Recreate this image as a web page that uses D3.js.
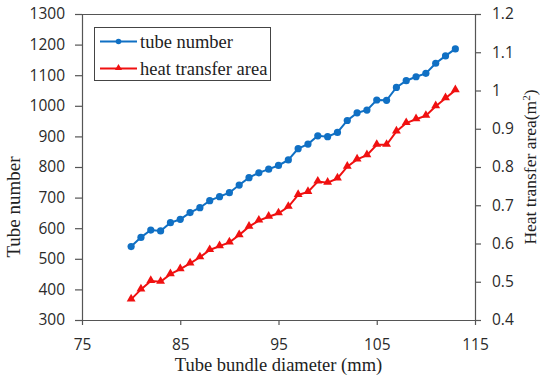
<!DOCTYPE html>
<html><head><meta charset="utf-8">
<script src="https://cdn.jsdelivr.net/npm/d3@7"></script>
<style>body{margin:0;background:#fff}svg{display:block}</style>
</head><body>
<svg id="c" width="550" height="382"></svg>
<script>
const diameters = d3.range(80, 114, 1);
const tubeNumber = [540,570,594,591,618,629,651,667,690,703,716,741,765,781,793,805,823,860,875,902,899,913,952,977,986,1019,1018,1060,1082,1095,1106,1139,1163,1186];
const heatArea = [0.454,0.480,0.502,0.500,0.520,0.533,0.548,0.564,0.583,0.593,0.603,0.622,0.644,0.660,0.670,0.679,0.696,0.727,0.735,0.762,0.759,0.770,0.801,0.820,0.831,0.858,0.858,0.893,0.915,0.925,0.934,0.959,0.980,1.001];
const xTicks = [75,85,95,105,115];
const yLeftTicks = [300,400,500,600,700,800,900,1000,1100,1200,1300];
const yRightTicks = [0.4,0.5,0.6,0.7,0.8,0.9,1.0,1.1,1.2];
const seriesNames = ["tube number","heat transfer area"];

const svg = d3.select("#c");
const L=82, R=475, T=14, B=320;
const x = d3.scaleLinear().domain([75,115]).range([L,R]);
const yL = d3.scaleLinear().domain([300,1300]).range([B,T]);
const yR = d3.scaleLinear().domain([0.4,1.2]).range([B,T]);
const axisCol = "#555";
const tickFont = "'Open Sans', sans-serif";
const serif = "'Liberation Serif', 'Times New Roman', serif";
const blue = "#1070c4", red = "#f01010";

// frame top
svg.append("line").attr("x1",L).attr("x2",R).attr("y1",T+0.5).attr("y2",T+0.5).attr("stroke",axisCol).attr("stroke-width",1.2);

function styleAxis(g){
  g.selectAll("path,line").attr("stroke",axisCol).attr("stroke-width",1.2);
  g.selectAll("text").attr("fill","#2a2a2a").style("font-family",tickFont).style("font-size","15.5px");
}
svg.append("g").attr("transform",`translate(0,${B})`)
  .call(d3.axisBottom(x).tickValues(xTicks).tickFormat(d3.format("d")).tickSize(5).tickSizeOuter(0).tickPadding(14))
  .call(styleAxis);
svg.append("g").attr("transform",`translate(${L},0)`)
  .call(d3.axisLeft(yL).tickValues(yLeftTicks).tickFormat(d3.format("d")).tickSize(7).tickSizeOuter(0).tickPadding(10))
  .call(styleAxis);
svg.append("g").attr("transform",`translate(${R},0)`)
  .call(d3.axisRight(yR).tickValues(yRightTicks).tickFormat(d=>String(+d.toFixed(1))).tickSize(6).tickSizeOuter(0).tickPadding(11))
  .call(styleAxis);

// titles
svg.append("text").attr("x",(L+R)/2).attr("y",371).attr("text-anchor","middle")
  .style("font-family",serif).style("font-size","18.5px").attr("fill","#222").text("Tube bundle diameter (mm)");
svg.append("text").attr("transform","translate(20,207) rotate(-90)").attr("text-anchor","middle")
  .style("font-family",serif).style("font-size","19px").attr("fill","#222").text("Tube number");
const rt = svg.append("text").attr("transform","translate(536,167) rotate(-90)").attr("text-anchor","middle")
  .style("font-family",serif).style("font-size","17.5px").attr("fill","#222");
rt.append("tspan").text("Heat transfer area(m");
rt.append("tspan").attr("dy",-6).style("font-size","11px").text("2");
rt.append("tspan").attr("dy",6).text(")");

// series
const tri = d3.symbol().type(d3.symbolTriangle).size(34);
const lineB = d3.line().x((d,i)=>x(diameters[i])).y(d=>yL(d));
const lineR = d3.line().x((d,i)=>x(diameters[i])).y(d=>yR(d));
svg.append("path").datum(tubeNumber).attr("d",lineB).attr("fill","none").attr("stroke",blue).attr("stroke-width",2);
svg.selectAll(".pb").data(tubeNumber).enter().append("circle")
  .attr("cx",(d,i)=>x(diameters[i])).attr("cy",d=>yL(d)).attr("r",3.6).attr("fill",blue);
svg.append("path").datum(heatArea).attr("d",lineR).attr("fill","none").attr("stroke",red).attr("stroke-width",2);
svg.selectAll(".pr").data(heatArea).enter().append("path")
  .attr("transform",(d,i)=>`translate(${x(diameters[i])},${yR(d)-0.5})`).attr("d",tri).attr("fill",red);

// legend
const lg = svg.append("g");
lg.append("rect").attr("x",94.5).attr("y",27.5).attr("width",176).attr("height",53)
  .attr("fill","#fff").attr("stroke","#444").attr("stroke-width",1);
const lgY = [41.5, 68.5];
[blue, red].forEach((c,i)=>{
  lg.append("line").attr("x1",100).attr("x2",137).attr("y1",lgY[i]).attr("y2",lgY[i]).attr("stroke",c).attr("stroke-width",2);
  if(i===0) lg.append("circle").attr("cx",118.5).attr("cy",lgY[i]).attr("r",2.8).attr("fill",c);
  else lg.append("path").attr("transform",`translate(118.5,${lgY[i]-0.5})`).attr("d",d3.symbol().type(d3.symbolTriangle).size(22)).attr("fill",c);
  lg.append("text").attr("x",140).attr("y",lgY[i]+6).style("font-family",serif).style("font-size","18.5px").attr("fill","#222").text(seriesNames[i]);
});
</script>
</body></html>
